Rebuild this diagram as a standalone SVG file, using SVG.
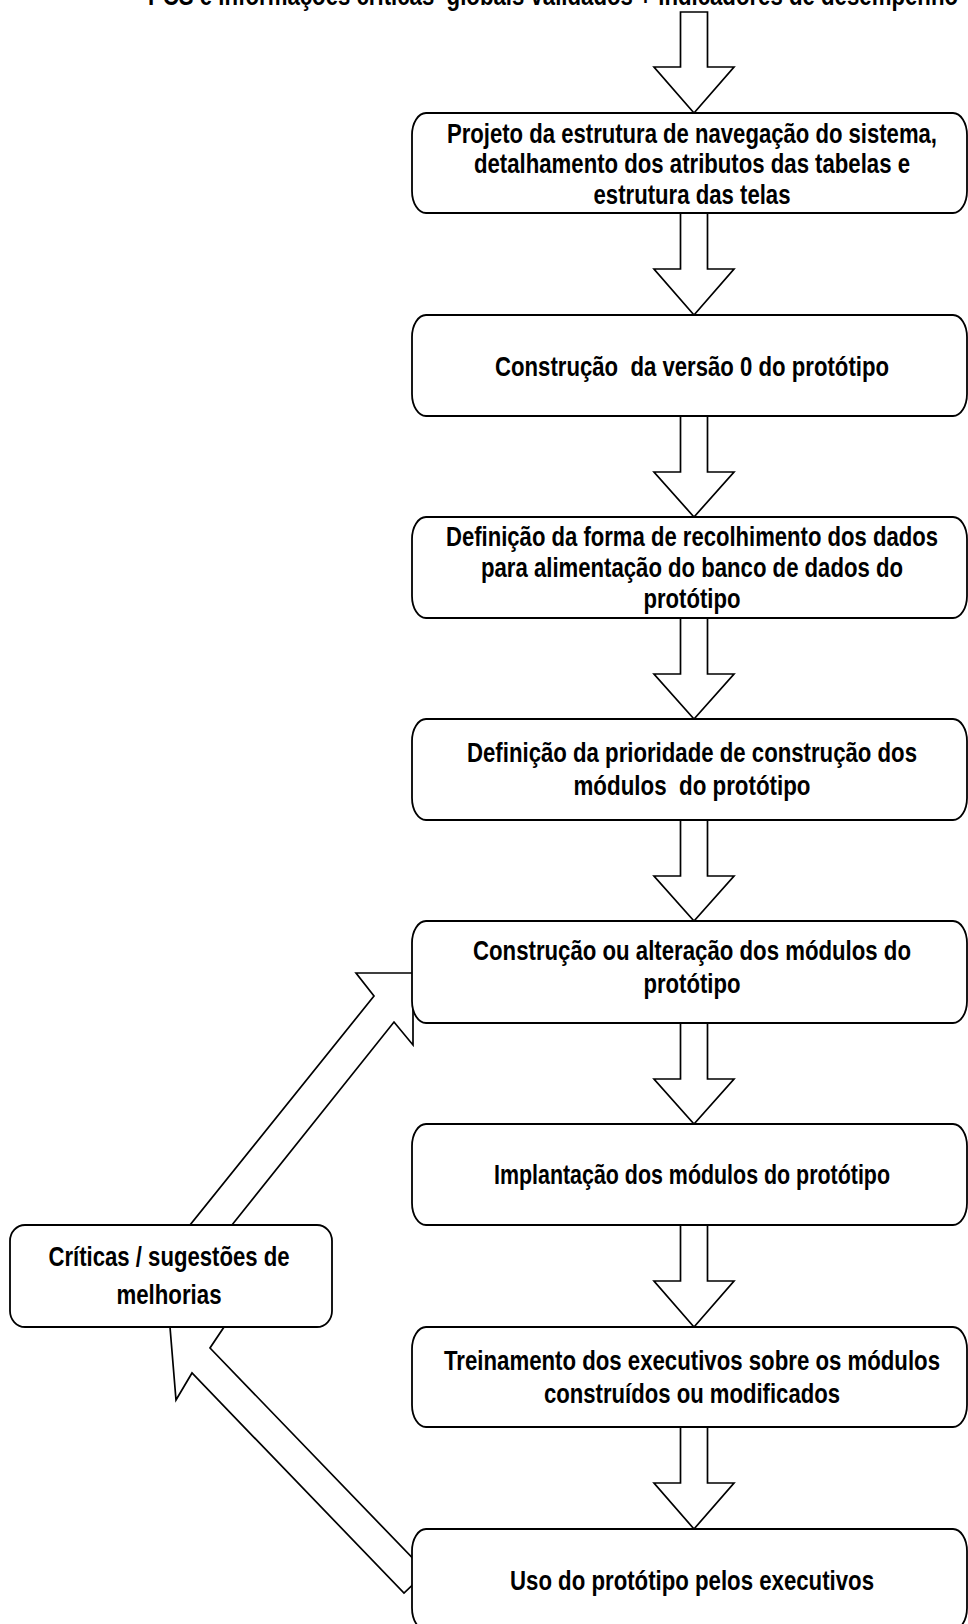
<svg xmlns="http://www.w3.org/2000/svg" width="968" height="1624" viewBox="0 0 968 1624">
<style>
.bg{fill:#fff}
.box{fill:#fff;stroke:#000;stroke-width:1.8}
.arr{fill:#fff;stroke:#000;stroke-width:1.7;stroke-linejoin:miter}
.t{font-family:"Liberation Sans Narrow","Liberation Sans",Arial,sans-serif;font-weight:bold;font-size:27px;fill:#000;text-anchor:middle;white-space:pre}
.title{text-anchor:start}
</style>
<rect class="bg" x="0" y="0" width="968" height="1624"/>
<text id="title" class="t title" x="148" y="5" textLength="810" lengthAdjust="spacingAndGlyphs" xml:space="preserve">PCS e informações críticas  globais validados + indicadores de desempenho</text>
<g id="connectors">
  <path class="arr" d="M680.5,12 H707.5 V67 H734 L694,113 L654,67 H680.5 Z"/>
  <path class="arr" d="M680.5,213 H707.5 V269 H734 L694,315 L654,269 H680.5 Z"/>
  <path class="arr" d="M680.5,416 H707.5 V472 H734 L694,517 L654,472 H680.5 Z"/>
  <path class="arr" d="M680.5,618 H707.5 V674 H734 L694,719 L654,674 H680.5 Z"/>
  <path class="arr" d="M680.5,820 H707.5 V876 H734 L694,921 L654,876 H680.5 Z"/>
  <path class="arr" d="M680.5,1023 H707.5 V1079 H734 L694,1124 L654,1079 H680.5 Z"/>
  <path class="arr" d="M680.5,1225 H707.5 V1281 H734 L694,1327 L654,1281 H680.5 Z"/>
  <path class="arr" d="M680.5,1427 H707.5 V1483 H734 L694,1529 L654,1483 H680.5 Z"/>
  <path id="loop-up" class="arr" d="M413,973 L413,1045 L394,1022 L220,1240 L178,1240 L374,996 L356,973 Z"/>
  <path id="loop-back" class="arr" d="M170,1327 L224,1327 L210,1348 L426,1572 L404,1593 L192,1373 L176,1400 Z"/>
</g>
<g id="n1"><rect class="box" x="412" y="113" width="555" height="100" rx="14" ry="22"/>
<text class="t" x="692" y="143" textLength="490" lengthAdjust="spacingAndGlyphs">Projeto da estrutura de navegação do sistema,</text>
<text class="t" x="692" y="173" textLength="436" lengthAdjust="spacingAndGlyphs">detalhamento dos atributos das tabelas e</text>
<text class="t" x="692" y="204" textLength="197" lengthAdjust="spacingAndGlyphs">estrutura das telas</text></g>
<g id="n2"><rect class="box" x="412" y="315" width="555" height="101" rx="14" ry="22"/>
<text class="t" x="692" y="376" textLength="394" lengthAdjust="spacingAndGlyphs" xml:space="preserve">Construção  da versão 0 do protótipo</text></g>
<g id="n3"><rect class="box" x="412" y="517" width="555" height="101" rx="14" ry="22"/>
<text class="t" x="692" y="546" textLength="492" lengthAdjust="spacingAndGlyphs">Definição da forma de recolhimento dos dados</text>
<text class="t" x="692" y="577" textLength="422" lengthAdjust="spacingAndGlyphs">para alimentação do banco de dados do</text>
<text class="t" x="692" y="608" textLength="97" lengthAdjust="spacingAndGlyphs">protótipo</text></g>
<g id="n4"><rect class="box" x="412" y="719" width="555" height="101" rx="14" ry="22"/>
<text class="t" x="692" y="762" textLength="450" lengthAdjust="spacingAndGlyphs">Definição da prioridade de construção dos</text>
<text class="t" x="692" y="795" textLength="237" lengthAdjust="spacingAndGlyphs" xml:space="preserve">módulos  do protótipo</text></g>
<g id="n5"><rect class="box" x="412" y="921" width="555" height="102" rx="14" ry="22"/>
<text class="t" x="692" y="960" textLength="438" lengthAdjust="spacingAndGlyphs">Construção ou alteração dos módulos do</text>
<text class="t" x="692" y="993" textLength="97" lengthAdjust="spacingAndGlyphs">protótipo</text></g>
<g id="n6"><rect class="box" x="412" y="1124" width="555" height="101" rx="14" ry="22"/>
<text class="t" x="692" y="1184" textLength="396" lengthAdjust="spacingAndGlyphs">Implantação dos módulos do protótipo</text></g>
<g id="n7"><rect class="box" x="412" y="1327" width="555" height="100" rx="14" ry="22"/>
<text class="t" x="692" y="1370" textLength="496" lengthAdjust="spacingAndGlyphs">Treinamento dos executivos sobre os módulos</text>
<text class="t" x="692" y="1403" textLength="296" lengthAdjust="spacingAndGlyphs">construídos ou modificados</text></g>
<g id="n8"><rect class="box" x="412" y="1529" width="555" height="101" rx="14" ry="22"/>
<text class="t" x="692" y="1590" textLength="364" lengthAdjust="spacingAndGlyphs">Uso do protótipo pelos executivos</text></g>
<g id="n9"><rect class="box" x="10" y="1225" width="322" height="102" rx="15" ry="16"/>
<text class="t" x="169" y="1266" textLength="241" lengthAdjust="spacingAndGlyphs">Críticas / sugestões de</text>
<text class="t" x="169" y="1304" textLength="105" lengthAdjust="spacingAndGlyphs">melhorias</text></g>
</svg>
